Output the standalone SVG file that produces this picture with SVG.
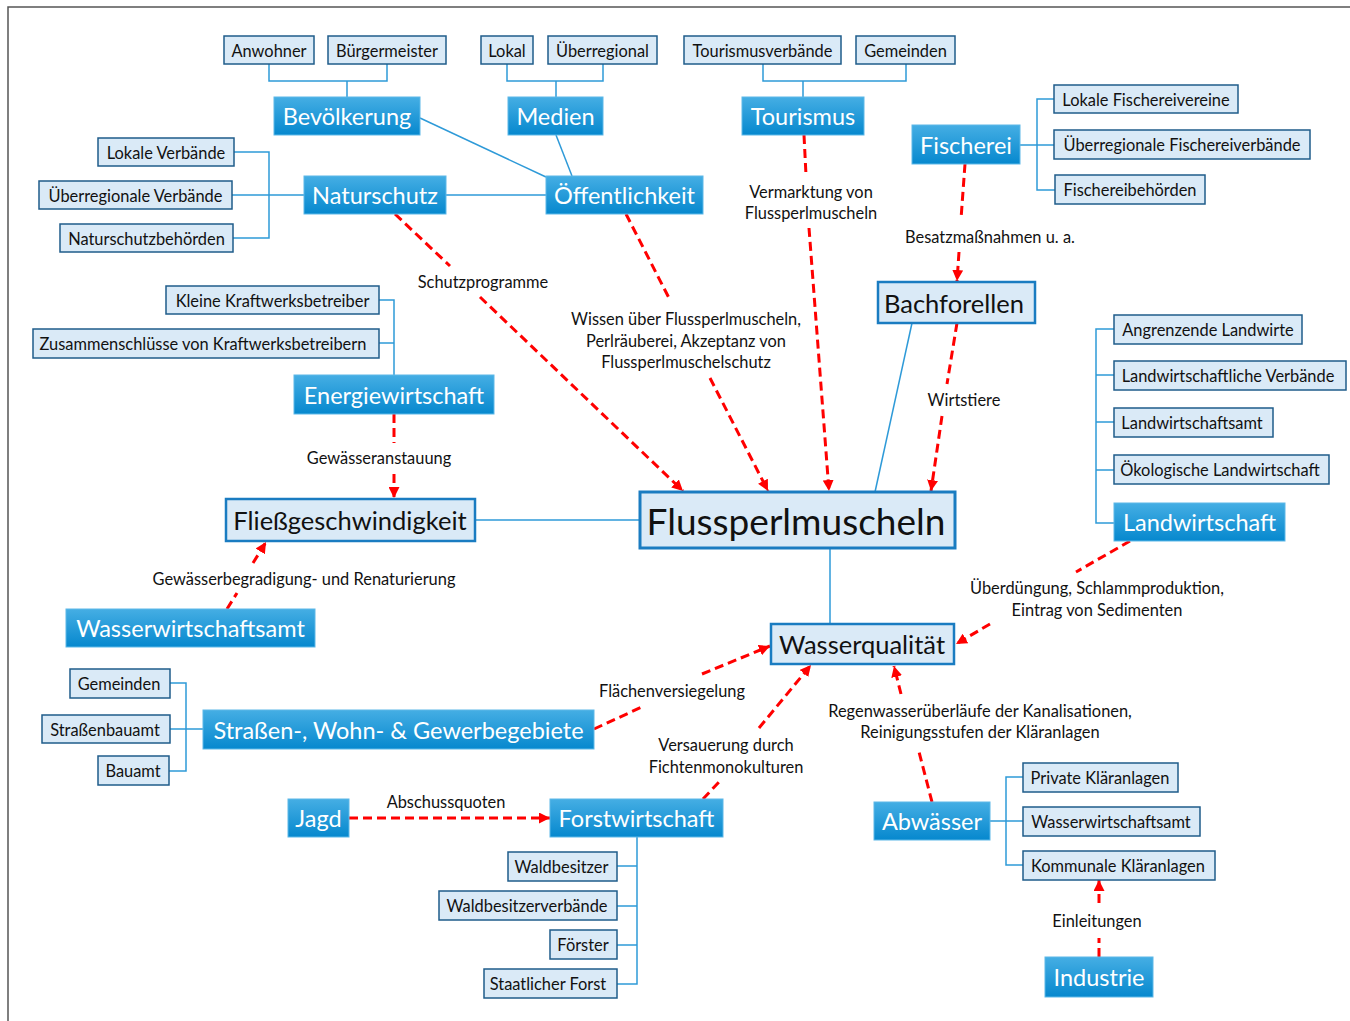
<svg xmlns="http://www.w3.org/2000/svg" width="1350" height="1021" viewBox="0 0 1350 1021">
<defs>
<linearGradient id="dg" x1="0" y1="0" x2="0" y2="1">
<stop offset="0" stop-color="#45AEE4"/>
<stop offset="1" stop-color="#0688CE"/>
</linearGradient>
<marker id="ah" viewBox="0 0 10 10" refX="10" refY="5" markerWidth="11" markerHeight="11" markerUnits="userSpaceOnUse" orient="auto">
<path d="M0,0 L10,5 L0,10 z" fill="#FF0000"/>
</marker>
<style>
text{font-family:Lato,"Open Sans","Liberation Sans",sans-serif;text-anchor:middle;dominant-baseline:central}
.s rect{fill:#DAEAF7;stroke:#1F5C8A;stroke-width:1.5}
.s text{font-size:16.4px;fill:#111}
.d rect{fill:url(#dg);stroke:#5DB8E8;stroke-width:1}
.d text{font-size:23.5px;fill:#fff}
.l rect{fill:#DAEAF7;stroke:#1A7CC1;stroke-width:2.5}
.l text{font-size:25.5px;fill:#111}
.b{fill:none;stroke:#2E9AD8;stroke-width:1.5}
.r{fill:none;stroke:#FF0000;stroke-width:3;stroke-dasharray:9 5}
.lb{font-size:16.4px;fill:#111}
</style>
</defs>
<rect width="1350" height="1021" fill="#fff"/>
<path d="M8,1021 V7 H1350" fill="none" stroke="#555" stroke-width="1.5"/>

<g id="connectors">
<path class="b" d="M269,64 V81 H387 V64 M347,81 V97"/>
<path class="b" d="M507,64 V81 H603 V64 M556,81 V97"/>
<path class="b" d="M763,64 V81 H906 V64 M803,81 V97"/>
<path class="b" d="M420,118 L546,177"/>
<path class="b" d="M556,135 L572,176"/>
<path class="b" d="M446,195 H546"/>
<path class="b" d="M304,195 H232 M234,152 H269 V238 H233"/>
<path class="b" d="M1020,145 H1054 M1054,99 H1037 V190 H1055"/>
<path class="b" d="M379,300 H394 V375 M379,343 H394"/>
<path class="b" d="M1114,329 H1096 V523 H1114 M1096,375 H1114 M1096,422 H1114 M1096,470 H1114"/>
<path class="b" d="M170,683 H186 V771 H169 M170,729 H203"/>
<path class="b" d="M637,837 V984 H617 M617,866 H637 M617,906 H637 M617,945 H637"/>
<path class="b" d="M990,821 H1023 M1023,777 H1006 V865 H1023"/>
<path class="b" d="M475,520 H640"/>
<path class="b" d="M830,548 V624"/>
<path class="b" d="M912,323 L875,492"/>

<path class="r" d="M395,214 L450,266"/>
<path class="r" d="M480,297 L683,491" marker-end="url(#ah)"/>
<path class="r" d="M626,214 L670,300"/>
<path class="r" d="M710,378 L768,491" marker-end="url(#ah)"/>
<path class="r" d="M804,135 L806,175"/>
<path class="r" d="M809,228 L829,491" marker-end="url(#ah)"/>
<path class="r" d="M965,164 L961,219"/>
<path class="r" d="M959,252 L957,281" marker-end="url(#ah)"/>
<path class="r" d="M957,323 L947,384"/>
<path class="r" d="M942,416 L931,491" marker-end="url(#ah)"/>
<path class="r" d="M394,414 V443"/>
<path class="r" d="M394,474 V498" marker-end="url(#ah)"/>
<path class="r" d="M227,609 L237,593"/>
<path class="r" d="M253,563 L266,542" marker-end="url(#ah)"/>
<path class="r" d="M1130,541 L1076,572"/>
<path class="r" d="M990,624 L956,644" marker-end="url(#ah)"/>
<path class="r" d="M594,729 L644,706"/>
<path class="r" d="M702,674 L770,646" marker-end="url(#ah)"/>
<path class="r" d="M703,799 L719,782"/>
<path class="r" d="M759,728 L811,665" marker-end="url(#ah)"/>
<path class="r" d="M932,802 L918,748"/>
<path class="r" d="M901,694 L894,666" marker-end="url(#ah)"/>
<path class="r" d="M349,818 H550" marker-end="url(#ah)"/>
<path class="r" d="M1099,957 V938"/>
<path class="r" d="M1099,903 V880" marker-end="url(#ah)"/>

<text class="lb" x="483" y="281">Schutzprogramme</text>
<text class="lb" x="811" y="191">Vermarktung von</text>
<text class="lb" x="811" y="212">Flussperlmuscheln</text>
<text class="lb" x="990" y="236">Besatzmaßnahmen u. a.</text>
<text class="lb" x="686" y="318">Wissen über Flussperlmuscheln,</text>
<text class="lb" x="686" y="340">Perlräuberei, Akzeptanz von</text>
<text class="lb" x="686" y="361">Flussperlmuschelschutz</text>
<text class="lb" x="964" y="399">Wirtstiere</text>
<text class="lb" x="379" y="457">Gewässeranstauung</text>
<text class="lb" x="304" y="578">Gewässerbegradigung- und Renaturierung</text>
<text class="lb" x="1097" y="587">Überdüngung, Schlammproduktion,</text>
<text class="lb" x="1097" y="609">Eintrag von Sedimenten</text>
<text class="lb" x="672" y="690">Flächenversiegelung</text>
<text class="lb" x="980" y="710">Regenwasserüberläufe der Kanalisationen,</text>
<text class="lb" x="980" y="731">Reinigungsstufen der Kläranlagen</text>
<text class="lb" x="726" y="744">Versauerung durch</text>
<text class="lb" x="726" y="766">Fichtenmonokulturen</text>
<text class="lb" x="446" y="801">Abschussquoten</text>
<text class="lb" x="1097" y="920">Einleitungen</text>
</g>

<g id="anwohner" class="s"><rect x="224" y="36" width="90" height="28"/><text x="269" y="50">Anwohner</text></g>
<g id="buergermeister" class="s"><rect x="328" y="36" width="118" height="28"/><text x="387" y="50">Bürgermeister</text></g>
<g id="lokal" class="s"><rect x="481" y="36" width="52" height="28"/><text x="507" y="50">Lokal</text></g>
<g id="ueberregional" class="s"><rect x="548" y="36" width="109" height="28"/><text x="602.5" y="50">Überregional</text></g>
<g id="tourismusverbaende" class="s"><rect x="684" y="36" width="157" height="28"/><text x="762.5" y="50">Tourismusverbände</text></g>
<g id="gemeinden1" class="s"><rect x="856" y="36" width="99" height="28"/><text x="905.5" y="50">Gemeinden</text></g>
<g id="lokale-verbaende" class="s"><rect x="98" y="138" width="136" height="28"/><text x="166" y="152">Lokale Verbände</text></g>
<g id="ueberregionale-verbaende" class="s"><rect x="39" y="181" width="193" height="28"/><text x="135.5" y="195">Überregionale Verbände</text></g>
<g id="naturschutzbehoerden" class="s"><rect x="60" y="224" width="173" height="28"/><text x="146.5" y="238">Naturschutzbehörden</text></g>
<g id="lokale-fischereivereine" class="s"><rect x="1054" y="85" width="184" height="28"/><text x="1146" y="99">Lokale Fischereivereine</text></g>
<g id="ueberregionale-fischereiverbaende" class="s"><rect x="1054" y="130" width="256" height="29"/><text x="1182" y="144.5">Überregionale Fischereiverbände</text></g>
<g id="fischereibehoerden" class="s"><rect x="1055" y="175" width="150" height="29"/><text x="1130" y="189.5">Fischereibehörden</text></g>
<g id="kleine-kraftwerksbetreiber" class="s"><rect x="166" y="286" width="213" height="28"/><text x="272.5" y="300">Kleine Kraftwerksbetreiber</text></g>
<g id="zusammenschluesse" class="s"><rect x="33" y="329" width="346" height="29"/><text x="203" y="343.5">Zusammenschlüsse von Kraftwerksbetreibern</text></g>
<g id="angrenzende-landwirte" class="s"><rect x="1114" y="315" width="188" height="29"/><text x="1208" y="329.5">Angrenzende Landwirte</text></g>
<g id="landwirtschaftliche-verbaende" class="s"><rect x="1114" y="361" width="232" height="29"/><text x="1228" y="375.5">Landwirtschaftliche Verbände</text></g>
<g id="landwirtschaftsamt" class="s"><rect x="1114" y="408" width="159" height="29"/><text x="1192" y="422.5">Landwirtschaftsamt</text></g>
<g id="oekologische-landwirtschaft" class="s"><rect x="1114" y="455" width="215" height="29"/><text x="1220" y="469.5">Ökologische Landwirtschaft</text></g>
<g id="gemeinden2" class="s"><rect x="70" y="669" width="100" height="29"/><text x="119" y="683.5">Gemeinden</text></g>
<g id="strassenbauamt" class="s"><rect x="42" y="715" width="128" height="28"/><text x="105" y="729">Straßenbauamt</text></g>
<g id="bauamt" class="s"><rect x="98" y="756" width="71" height="29"/><text x="133" y="770.5">Bauamt</text></g>
<g id="waldbesitzer" class="s"><rect x="508" y="852" width="109" height="29"/><text x="561.5" y="866.5">Waldbesitzer</text></g>
<g id="waldbesitzerverbaende" class="s"><rect x="439" y="891" width="178" height="29"/><text x="527" y="905.5">Waldbesitzerverbände</text></g>
<g id="foerster" class="s"><rect x="550" y="930" width="67" height="29"/><text x="583" y="944.5">Förster</text></g>
<g id="staatlicher-forst" class="s"><rect x="484" y="969" width="133" height="29"/><text x="548" y="983.5">Staatlicher Forst</text></g>
<g id="private-klaeranlagen" class="s"><rect x="1023" y="763" width="155" height="29"/><text x="1100" y="777.5">Private Kläranlagen</text></g>
<g id="wasserwirtschaftsamt2" class="s"><rect x="1023" y="807" width="177" height="29"/><text x="1111" y="821.5">Wasserwirtschaftsamt</text></g>
<g id="kommunale-klaeranlagen" class="s"><rect x="1023" y="851" width="192" height="29"/><text x="1118" y="865.5">Kommunale Kläranlagen</text></g>

<g id="bevoelkerung" class="d"><rect x="274" y="97" width="146" height="38"/><text x="347" y="116">Bevölkerung</text></g>
<g id="medien" class="d"><rect x="508" y="97" width="95" height="38"/><text x="555.5" y="116">Medien</text></g>
<g id="tourismus" class="d"><rect x="742" y="97" width="122" height="38"/><text x="803" y="116">Tourismus</text></g>
<g id="oeffentlichkeit" class="d"><rect x="546" y="176" width="157" height="38"/><text x="624.5" y="195">Öffentlichkeit</text></g>
<g id="naturschutz" class="d"><rect x="304" y="176" width="142" height="38"/><text x="375" y="195">Naturschutz</text></g>
<g id="fischerei" class="d"><rect x="912" y="125" width="108" height="39"/><text x="966" y="144.5">Fischerei</text></g>
<g id="energiewirtschaft" class="d"><rect x="294" y="375" width="200" height="39"/><text x="394" y="394.5">Energiewirtschaft</text></g>
<g id="wasserwirtschaftsamt" class="d"><rect x="66" y="609" width="249" height="38"/><text x="190.5" y="628">Wasserwirtschaftsamt</text></g>
<g id="landwirtschaft" class="d"><rect x="1114" y="503" width="171" height="38"/><text x="1199.5" y="522">Landwirtschaft</text></g>
<g id="strassen" class="d"><rect x="203" y="710" width="391" height="39"/><text x="398.5" y="729.5">Straßen-, Wohn- &amp; Gewerbegebiete</text></g>
<g id="jagd" class="d"><rect x="288" y="799" width="61" height="38"/><text x="318.5" y="818">Jagd</text></g>
<g id="forstwirtschaft" class="d"><rect x="550" y="799" width="173" height="38"/><text x="636.5" y="818">Forstwirtschaft</text></g>
<g id="abwaesser" class="d"><rect x="874" y="802" width="116" height="38"/><text x="932" y="821">Abwässer</text></g>
<g id="industrie" class="d"><rect x="1045" y="957" width="108" height="40"/><text x="1099" y="977">Industrie</text></g>

<g id="bachforellen" class="l"><rect x="878" y="282" width="157" height="41"/><text x="954" y="302.5">Bachforellen</text></g>
<g id="flussperlmuscheln" class="l"><rect x="640" y="492" width="315" height="56" style="stroke-width:3"/><text x="796" y="520" style="font-size:37px">Flussperlmuscheln</text></g>
<g id="wasserqualitaet" class="l"><rect x="771" y="624" width="183" height="40"/><text x="862" y="644">Wasserqualität</text></g>
<g id="fliessgeschwindigkeit" class="l"><rect x="226" y="499" width="249" height="42"/><text x="350" y="520">Fließgeschwindigkeit</text></g>
</svg>
